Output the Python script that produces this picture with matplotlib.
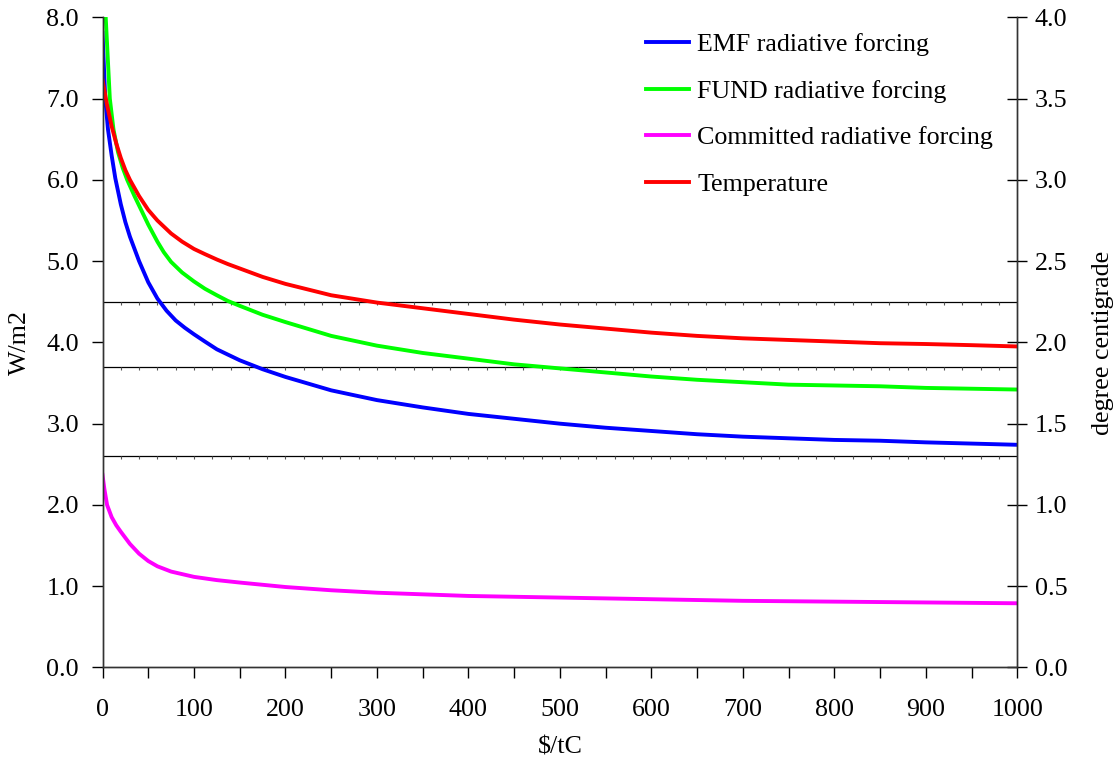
import numpy as np
import matplotlib
matplotlib.use('Agg')
import matplotlib.pyplot as plt

# ── Data ──────────────────────────────────────────────────────────────
price_emf = [0, 3, 6, 10, 14, 20, 25, 30, 40, 50, 60, 70, 80, 90, 100, 112, 125,
             137, 150, 175, 200, 250, 300, 350, 400, 450, 500, 550, 600, 650, 700,
             750, 800, 850, 900, 950, 1000]
emf_rf    = [7.81, 7.0, 6.62, 6.3, 6.02, 5.7, 5.48, 5.3, 5.0, 4.74, 4.54, 4.39, 4.27,
             4.18, 4.1, 4.01, 3.915, 3.85, 3.78, 3.67, 3.575, 3.41, 3.29, 3.2, 3.12,
             3.06, 3.0, 2.95, 2.91, 2.87, 2.84, 2.82, 2.8, 2.79, 2.77, 2.755, 2.74]

price_fund = [0, 3.5, 8, 12, 17, 22, 27, 35, 50, 60, 67, 75, 87, 100, 112, 125,
              137, 150, 175, 200, 250, 300, 350, 400, 450, 500, 550, 600, 650, 700,
              750, 800, 850, 900, 950, 1000]
fund_rf    = [8.6, 8.0, 7.0, 6.62, 6.34, 6.15, 6.0, 5.8, 5.45, 5.24, 5.11, 4.99,
              4.86, 4.75, 4.66, 4.58, 4.51, 4.45, 4.34, 4.25, 4.08, 3.96, 3.87, 3.8,
              3.73, 3.68, 3.63, 3.58, 3.54, 3.51, 3.48, 3.47, 3.46, 3.44, 3.43, 3.42]

price_temp = [0, 5, 10, 15, 20, 25, 30, 40, 50, 60, 75, 87, 100, 112, 125, 137,
              150, 175, 200, 250, 300, 350, 400, 450, 500, 550, 600, 650, 700, 750,
              800, 850, 900, 950, 1000]
temp_deg   = [3.615, 3.46, 3.33, 3.225, 3.135, 3.06, 3.0, 2.9, 2.815, 2.75, 2.67,
              2.62, 2.575, 2.543, 2.51, 2.482, 2.455, 2.403, 2.36, 2.29, 2.245,
              2.21, 2.175, 2.14, 2.11, 2.085, 2.06, 2.04, 2.025, 2.015, 2.005,
              1.995, 1.99, 1.983, 1.975]

price_comm = [0, 2, 5, 10, 15, 20, 30, 40, 50, 60, 75, 100, 125, 150, 200, 250,
              300, 350, 400, 500, 600, 700, 800, 900, 1000]
comm_rf    = [2.37, 2.2, 2.0, 1.85, 1.75, 1.67, 1.52, 1.40, 1.31, 1.245, 1.18,
              1.115, 1.075, 1.045, 0.99, 0.95, 0.92, 0.9, 0.88, 0.86, 0.84, 0.82,
              0.81, 0.80, 0.79]

ref_levels = [4.5, 3.7, 2.6]

# ── Plot ──────────────────────────────────────────────────────────────
plt.rcParams['font.family'] = ['Liberation Serif', 'DejaVu Serif']
FS = 18.7

fig = plt.figure(figsize=(11.19, 7.63), dpi=100)
ax = fig.add_axes([0.0916, 0.1252, 0.8175, 0.8521])
ax2 = ax.twinx()

grid_x = np.arange(0, 1001, 20)
for lev in ref_levels:
    ax.plot(grid_x, [lev] * len(grid_x), color='black', linewidth=0.9,
            marker=3, markersize=2.5, markeredgewidth=0.8, markeredgecolor='#555555')

l1, = ax.plot(price_emf, emf_rf, color='#0000ff', linewidth=2.8,
              label='EMF radiative forcing')
l2, = ax.plot(price_fund, fund_rf, color='#00ff00', linewidth=2.8,
              label='FUND radiative forcing')
l3, = ax.plot(price_comm, comm_rf, color='#ff00ff', linewidth=2.8,
              label='Committed radiative forcing')
l4, = ax2.plot(price_temp, temp_deg, color='#ff0000', linewidth=2.8,
               label='Temperature')

ax.set_xlim(0, 1000)
ax.set_ylim(0, 8)
ax2.set_ylim(0, 4)

ax.set_xticks(np.arange(0, 1001, 100))
ax.set_xticks(np.arange(0, 1001, 50), minor=True)
ax.set_yticks(np.arange(0, 8.1, 1))
ax.set_yticklabels([f'{v:.1f}' for v in np.arange(0, 8.1, 1)])
ax2.set_yticks(np.arange(0, 4.01, 0.5))
ax2.set_yticklabels([f'{v:.1f}' for v in np.arange(0, 4.01, 0.5)])

ax.tick_params(axis='x', which='both', direction='out', length=8, width=1,
               labelsize=FS, pad=15)
ax.tick_params(axis='y', direction='out', length=8, width=1, labelsize=FS, pad=9)
ax2.tick_params(axis='y', direction='inout', length=15, width=1, labelsize=FS, pad=5)

for a in (ax, ax2):
    a.spines['top'].set_visible(False)
    for s in ('left', 'right', 'bottom'):
        a.spines[s].set_linewidth(1)
        a.spines[s].set_color('#333333')

ax.set_xlabel(r'\$/tC', fontsize=FS, labelpad=11)
ax.set_ylabel('W/m2', fontsize=FS, labelpad=11)
ax2.set_ylabel('degree centigrade', fontsize=FS, labelpad=18)

ax2.legend(handles=[l1, l2, l3, l4], loc='upper right', bbox_to_anchor=(0.999, 1.012),
           frameon=False, fontsize=FS, handlelength=1.65, handletextpad=0.3,
           labelspacing=0.9)

fig.savefig('out.png', dpi=100)
